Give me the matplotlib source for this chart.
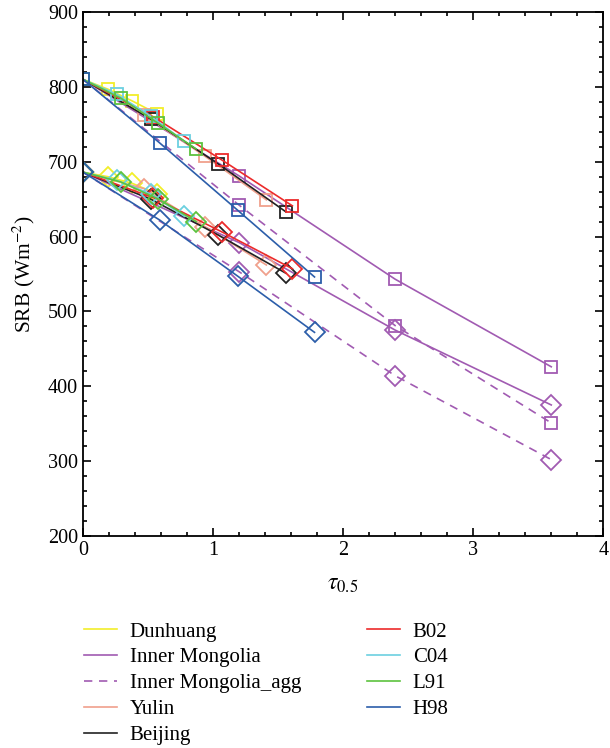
import matplotlib
matplotlib.use("Agg")
import matplotlib.pyplot as plt
from matplotlib.ticker import MultipleLocator
from matplotlib.lines import Line2D

plt.rcParams['font.family'] = ['Liberation Serif', 'DejaVu Serif']
plt.rcParams['mathtext.fontset'] = 'stix'

# ---- data ----
tau_dunhuang = [0, 0.19, 0.38, 0.57]
dunhuang_sq = [810, 797, 781, 764]
dunhuang_di = [686, 680, 671, 657]

tau_im = [0, 1.2, 2.4, 3.6]
im_sq = [810, 681, 543, 426]
im_di = [686, 592, 475, 375]
imagg_sq = [810, 642, 481, 351]
imagg_di = [686, 553, 414, 302]

tau_yulin = [0, 0.47, 0.94, 1.41]
yulin_sq = [810, 762, 707, 649]
yulin_di = [686, 664, 613, 562]

tau_beijing = [0, 0.52, 1.04, 1.56]
beijing_sq = [810, 757, 697, 633]
beijing_di = [686, 650, 602, 551]

tau_b02 = [0, 0.54, 1.07, 1.61]
b02_sq = [810, 760, 702, 641]
b02_di = [686, 652, 606, 557]

tau_c04 = [0, 0.26, 0.52, 0.78]
c04_sq = [810, 790, 761, 727]
c04_di = [686, 675, 657, 627]

tau_l91 = [0, 0.29, 0.58, 0.87]
l91_sq = [810, 785, 751, 717]
l91_di = [686, 673, 650, 620]

tau_h98 = [0, 0.59, 1.19, 1.78]
h98_sq = [810, 725, 635, 546]
h98_di = [686, 622, 547, 472]

# name, tau, squares, diamonds, colour, linestyle
series = [
    ('Dunhuang', tau_dunhuang, dunhuang_sq, dunhuang_di, '#f2ee2a', '-'),
    ('Inner Mongolia', tau_im, im_sq, im_di, '#a15bb2', '-'),
    ('Inner Mongolia_agg', tau_im, imagg_sq, imagg_di, '#a15bb2', (0, (5, 4))),
    ('Yulin', tau_yulin, yulin_sq, yulin_di, '#f0a08c', '-'),
    ('Beijing', tau_beijing, beijing_sq, beijing_di, '#222222', '-'),
    ('B02', tau_b02, b02_sq, b02_di, '#ec2b2b', '-'),
    ('C04', tau_c04, c04_sq, c04_di, '#6cd0e0', '-'),
    ('L91', tau_l91, l91_sq, l91_di, '#5cc23e', '-'),
    ('H98', tau_h98, h98_sq, h98_di, '#2c5eaa', '-'),
]

# ---- figure ----
fig = plt.figure(figsize=(6.1, 7.48), dpi=100)
ax = fig.add_axes([0.136, 0.2835, 0.853, 0.7005])

for name, t, sq, di, col, ls in series:
    ax.plot(t, sq, color=col, ls=ls, lw=1.2, marker='s', ms=9,
            mfc='none', mec=col, mew=1.3)
    ax.plot(t, di, color=col, ls=ls, lw=1.2, marker='D', ms=10.5,
            mfc='none', mec=col, mew=1.3)

ax.set_xlim(0, 4)
ax.set_ylim(200, 900)
ax.xaxis.set_major_locator(MultipleLocator(1))
ax.xaxis.set_minor_locator(MultipleLocator(0.2))
ax.yaxis.set_major_locator(MultipleLocator(100))
ax.yaxis.set_minor_locator(MultipleLocator(20))
ax.tick_params(which='both', direction='in', top=True, right=True,
               labelsize=14.5, width=1.2)
ax.tick_params(which='major', length=6)
ax.tick_params(which='minor', length=3)
for sp in ax.spines.values():
    sp.set_linewidth(1.3)

ax.set_xlabel(r'$\tau_{0.5}$', fontsize=17, labelpad=10)
ax.set_ylabel(r'SRB (Wm$^{-2}$)', fontsize=15.5, labelpad=8)

# ---- legend in two columns below the axes ----
handles = [Line2D([], [], color=c, ls=ls, lw=1.2) for _, _, _, _, c, ls in series]
labels = [s[0] for s in series]
common = dict(frameon=False, fontsize=15, handlelength=1.6, handletextpad=0.6,
              labelspacing=0.3, borderaxespad=0, borderpad=0, loc='upper left')
fig.legend(handles[:5], labels[:5], bbox_to_anchor=(84 / 610, 1 - 622 / 748), **common)
fig.legend(handles[5:], labels[5:], bbox_to_anchor=(367 / 610, 1 - 622 / 748), **common)

fig.savefig('out.png', dpi=100)
